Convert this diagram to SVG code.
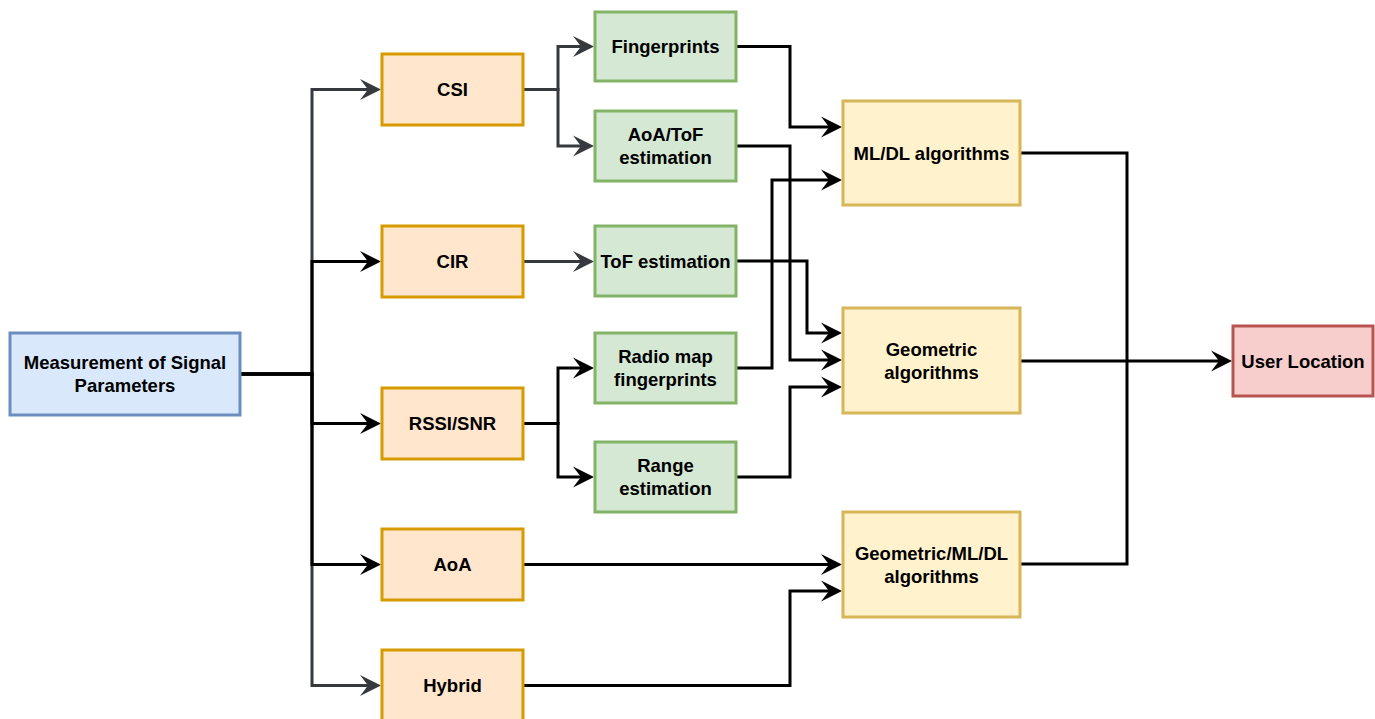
<svg xmlns="http://www.w3.org/2000/svg" width="1375" height="719" viewBox="0 0 1375 719">
<style>
text{font-family:"Liberation Sans",Arial,sans-serif;font-weight:bold;font-size:18.5px;fill:#000;text-anchor:middle}
.blue{fill:#dae8fc;stroke:#6c8ebf;stroke-width:3}
.orange{fill:#ffe6cc;stroke:#d79b00;stroke-width:3}
.green{fill:#d5e8d4;stroke:#82b366;stroke-width:3}
.yellow{fill:#fff2cc;stroke:#d6b656;stroke-width:3}
.red{fill:#f8cecc;stroke:#b85450;stroke-width:3}
.e{fill:none;stroke:#000;stroke-width:3}
.g{fill:none;stroke:#36393d;stroke-width:3}
.e{marker-end:url(#ab)}
.g{marker-end:url(#ag)}
.n{marker-end:none}
</style>
<defs>
<marker id="ab" markerUnits="userSpaceOnUse" viewBox="-10 -12 25 24" markerWidth="25" markerHeight="24" refX="0" refY="0" orient="auto">
<path d="M13,0 L-8,-10.5 L0,0 L-8,10.5 Z" fill="#000"/>
</marker>
<marker id="ag" markerUnits="userSpaceOnUse" viewBox="-10 -12 25 24" markerWidth="25" markerHeight="24" refX="0" refY="0" orient="auto">
<path d="M13,0 L-8,-10.5 L0,0 L-8,10.5 Z" fill="#36393d"/>
</marker>
</defs>
<g id="connectors">
<path class="g" d="M241 374 H312 V89.5 H368"/>
<path class="g" d="M241 374 H312 V685.5 H368"/>
<path class="g" d="M524 89.5 H558 V46.5 H581"/>
<path class="g" d="M524 89.5 H558 V146 H581"/>
<path class="g" d="M524 261.5 H581"/>
<path class="e" d="M241 374 H312 V261.5 H368"/>
<path class="e" d="M241 374 H312 V423.5 H368"/>
<path class="e" d="M241 374 H312 V564.5 H368"/>
<path class="e" d="M524 423.5 H558 V368 H581"/>
<path class="e" d="M524 423.5 H558 V477 H581"/>
<path class="e" d="M737 46.5 H790 V127 H829"/>
<path class="e" d="M737 146 H790 V360 H829"/>
<path class="e" d="M737 261 H807 V333 H829"/>
<path class="e" d="M737 368 H772 V180 H829"/>
<path class="e" d="M737 477 H790 V387 H829"/>
<path class="e" d="M524 564.5 H829"/>
<path class="e" d="M524 685.5 H790 V591 H829"/>
<path class="e n" d="M1021 153 H1127 V361"/>
<path class="e n" d="M1021 564 H1127 V361"/>
<path class="e" d="M1021 361 H1219"/>
</g>
<g id="measurement">
<rect class="blue" x="10" y="333" width="230" height="82"/>
<text x="125" y="369">Measurement of Signal</text>
<text x="125" y="392">Parameters</text>
</g>
<g id="csi">
<rect class="orange" x="382" y="54" width="141" height="71"/>
<text x="452.5" y="96">CSI</text>
</g>
<g id="cir">
<rect class="orange" x="382" y="226" width="141" height="71"/>
<text x="452.5" y="268">CIR</text>
</g>
<g id="rssi">
<rect class="orange" x="382" y="388" width="141" height="71"/>
<text x="452.5" y="430">RSSI/SNR</text>
</g>
<g id="aoa">
<rect class="orange" x="382" y="529" width="141" height="71"/>
<text x="452.5" y="571">AoA</text>
</g>
<g id="hybrid">
<rect class="orange" x="382" y="650" width="141" height="71"/>
<text x="452.5" y="692">Hybrid</text>
</g>
<g id="fingerprints">
<rect class="green" x="595" y="12" width="141" height="69"/>
<text x="665.5" y="53">Fingerprints</text>
</g>
<g id="aoatof">
<rect class="green" x="595" y="111" width="141" height="70"/>
<text x="665.5" y="141">AoA/ToF</text>
<text x="665.5" y="164">estimation</text>
</g>
<g id="tofest">
<rect class="green" x="595" y="226" width="141" height="70"/>
<text x="665.5" y="268">ToF estimation</text>
</g>
<g id="radiomap">
<rect class="green" x="595" y="333" width="141" height="70"/>
<text x="665.5" y="363">Radio map</text>
<text x="665.5" y="386">fingerprints</text>
</g>
<g id="range">
<rect class="green" x="595" y="442" width="141" height="70"/>
<text x="665.5" y="472">Range</text>
<text x="665.5" y="495">estimation</text>
</g>
<g id="mldl">
<rect class="yellow" x="843" y="101" width="177" height="104"/>
<text x="931.5" y="160">ML/DL algorithms</text>
</g>
<g id="geometric">
<rect class="yellow" x="843" y="308" width="177" height="105"/>
<text x="931.5" y="356">Geometric</text>
<text x="931.5" y="379">algorithms</text>
</g>
<g id="geomldl">
<rect class="yellow" x="843" y="512" width="177" height="105"/>
<text x="931.5" y="560">Geometric/ML/DL</text>
<text x="931.5" y="583">algorithms</text>
</g>
<g id="userlocation">
<rect class="red" x="1233" y="326" width="140" height="70"/>
<text x="1303" y="368">User Location</text>
</g>
</svg>
